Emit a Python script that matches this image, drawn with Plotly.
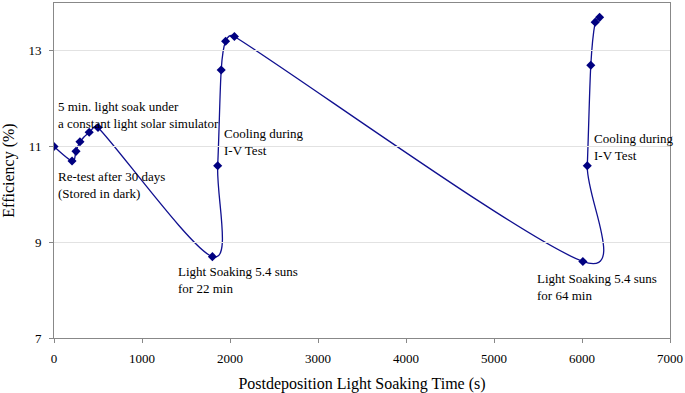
import math
import plotly.graph_objects as go

time_s = [0, 205, 250, 295, 400, 500, 1800, 1860, 1900, 1950, 2050, 6010, 6060, 6100, 6150, 6200]
efficiency = [11.0, 10.7, 10.9, 11.1, 11.3, 11.4, 8.7, 10.6, 12.6, 13.2, 13.3, 8.6, 10.6, 12.7, 13.6, 13.7]

notes_text = [
    "5 min. light soak under<br>a constant light solar simulator",
    "Re-test after 30 days<br>(Stored in dark)",
    "Cooling during<br>I-V Test",
    "Light Soaking 5.4 suns<br>for 22 min",
    "Cooling during<br>I-V Test",
    "Light Soaking 5.4 suns<br>for 64 min",
]
notes_x = [25, 25, 1910, 1387, 6114, 5467]
notes_y = [12.03, 10.57, 11.48, 8.58, 11.36, 8.45]

x_ticks = [0, 1000, 2000, 3000, 4000, 5000, 6000, 7000]
y_ticks = [7, 9, 11, 13]
x_range = [0, 7000]
y_range = [7, 14]

W, H = 685, 393
M = dict(l=54, r=15, t=3, b=55)

font = "Liberation Serif, Times New Roman, serif"
line_color = "#101090"


def smooth_path(xs, ys):
    # Excel-style smoothed line: cubic Bezier with Catmull-Rom tangents (tension 1/6),
    # each control arm limited to half of its own segment (measured on screen).
    sx = (W - M["l"] - M["r"]) / (x_range[1] - x_range[0])
    sy = (H - M["t"] - M["b"]) / (y_range[1] - y_range[0])
    n = len(xs)

    def dist(a, b):
        return math.hypot((xs[b] - xs[a]) * sx, (ys[b] - ys[a]) * sy)

    def arm(center, a, b, seg_other):
        dx, dy = xs[b] - xs[a], ys[b] - ys[a]
        d = dist(a, b)
        if d == 0:
            return 0.0, 0.0
        L = min(d / 6, dist(center, seg_other) / 2)
        f = L / d
        return dx * f, dy * f

    parts = [f"M {xs[0]:.4f},{ys[0]:.5f}"]
    for i in range(n - 1):
        ip, inx = max(i - 1, 0), min(i + 2, n - 1)
        ax, ay = arm(i, ip, i + 1, i + 1)
        bx, by = arm(i + 1, i, inx, i)
        c1x, c1y = xs[i] + ax, ys[i] + ay
        c2x, c2y = xs[i + 1] - bx, ys[i + 1] - by
        parts.append(f"C {c1x:.4f},{c1y:.5f} {c2x:.4f},{c2y:.5f} {xs[i + 1]:.4f},{ys[i + 1]:.5f}")
    return " ".join(parts)


fig = go.Figure()
fig.add_shape(type="path", path=smooth_path(time_s, efficiency), xref="x", yref="y",
              line=dict(color=line_color, width=1.3), layer="below")
fig.add_trace(go.Scatter(
    x=time_s, y=efficiency, mode="markers",
    marker=dict(symbol="diamond", size=7, color="#000080"),
    showlegend=False, hoverinfo="x+y",
))

for t, x, y in zip(notes_text, notes_x, notes_y):
    fig.add_annotation(x=x, y=y, text=t, showarrow=False, xanchor="left", yanchor="top",
                       align="left", font=dict(family=font, size=13, color="black"))

fig.update_layout(
    width=W, height=H,
    margin=M,
    paper_bgcolor="white", plot_bgcolor="white",
    font=dict(family=font, size=13, color="black"),
)
fig.update_xaxes(range=x_range, tickvals=x_ticks,
                 showgrid=False, zeroline=False, showline=True, linecolor="#888888", mirror=True,
                 ticks="outside", ticklen=4, tickcolor="#888888", automargin=False,
                 ticklabelstandoff=4,
                 title=dict(text="Postdeposition Light Soaking Time (s)", font=dict(size=16), standoff=14),
                 tickfont=dict(size=13))
fig.update_yaxes(range=y_range, tickvals=y_ticks,
                 showgrid=True, gridcolor="#e2e2e2", zeroline=False, showline=True, linecolor="#888888", mirror=True,
                 ticks="outside", ticklen=4, tickcolor="#888888", automargin=False,
                 ticklabelstandoff=5,
                 title=dict(text="Efficiency (%)", font=dict(size=16), standoff=14),
                 tickfont=dict(size=13))

fig.write_html("out.html", config={"displayModeBar": False},
               post_script="document.body.style.margin='0';document.body.style.overflow='hidden';")
